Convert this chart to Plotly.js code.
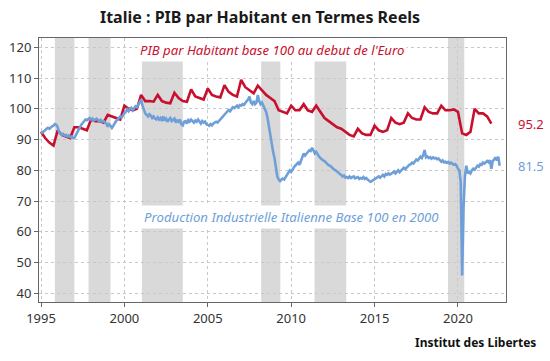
<!DOCTYPE html>
<html>
<head>
<meta charset="utf-8">
<script src="https://cdn.plot.ly/plotly-3.0.1.min.js"></script>
<style>html,body{margin:0;padding:0;background:#fff;}#chart{width:550px;height:361px;}</style>
</head>
<body>
<div id="chart"></div>
<script>
// GDP per capita (base 100 at start of Euro), quarterly, Q1 1995 .. Q1 2022
const gdpStartYear = 1995;
const gdpValues = [
  92.5, 90.5, 89, 88,
  93, 91.5, 91, 90.5,
  94, 94, 93.5, 93,
  96.5, 96, 96, 95.5,
  98, 97.5, 97, 96.5,
  101, 100, 99.5, 100,
  104.5, 102.5, 102.5, 102.3,
  104.5, 102.5, 102, 101.8,
  105.2, 103.5, 102.5, 102.3,
  106.3, 104, 103.5, 103,
  106.6, 104.5, 104, 103.7,
  107.7, 105.5, 104.5, 104,
  109.4, 107, 106, 105,
  107.5, 106, 104.5, 103.5,
  102.5, 99.5, 99, 98.5,
  101, 99.5, 99.5, 101.5,
  99.5, 99, 101, 99,
  97, 96, 95, 94,
  93.5, 92.5, 91.5, 91,
  93.5, 92, 91.5, 91.5,
  94.5, 93, 92.5, 93,
  97, 95.5, 95, 95.5,
  98.5, 97, 96.5, 96.5,
  100.5, 99, 98.5, 98.5,
  101, 99.5, 99.5, 99.8,
  99, 92, 91.5, 92.5,
  100, 98.5, 98.5, 97.5,
  95.2
];

// Industrial production (base 100 in 2000), monthly, Jan 1995 .. Jul 2022
const ipStartYear = 1995;
const ipValues = [
  92, 92.3, 92.8, 93, 93.5, 93.8, 93.5, 94, 94.3, 94.5, 95, 94.8,
  94, 92.5, 91.8, 91.5, 91.8, 91.2, 91.5, 91, 91.3, 90.8, 91, 90.5,
  90.5, 91.5, 92.5, 93.5, 94, 94.8, 95.5, 95.8, 96.5, 96.3, 96.8, 97,
  96.5, 96.8, 96.2, 96.5, 96.8, 96.3, 96, 96.4, 95.8, 96, 95.5, 95.2,
  94.2, 95, 94.5, 93.8, 94.5, 95.5, 96, 96.5, 97, 97.5, 97.2, 98,
  98.5, 99, 99.8, 99.2, 100, 100.3, 99.5, 100.2, 100.8, 100.5, 101.5, 102.5,
  103, 101, 99.5, 98.5, 98, 97.5, 98.2, 97.8, 97, 97.5, 96.8, 96.5,
  97.2, 96.5, 97, 96, 97.5, 96.2, 96.8, 95.8, 96.5, 97, 96, 96.5,
  96.8, 95.5, 96.2, 95.8, 96.5, 95, 94.6, 95.8, 96, 95.2, 96.3, 95.8,
  96.5, 96, 95.5, 96.2, 95.8, 96.5, 95.6, 95.2, 96, 95.5, 95.8, 95,
  94.8, 94.5, 95, 94.6, 95.2, 95.5, 95.8, 95.5, 96, 96.5, 97.2, 97.8,
  98, 98.5, 99, 99.6, 99.2, 100, 100.5, 100.2, 100.8, 101, 100.5, 101.2,
  101, 101.5, 101.2, 102, 102.5, 103, 104, 102, 101.5, 102.5, 101.5, 102,
  104.5, 102.5, 101.5, 102, 101, 100, 99, 97, 94, 91.5, 88.5, 86,
  84, 81, 78, 77, 76.5, 77, 77.3, 77, 77.8, 78.5, 79, 80,
  79.5, 80.5, 81, 81.5, 82, 82.5, 81.8, 83, 84.5, 85.5, 84.8, 85.5,
  86, 86.5, 86.3, 87.3, 86.5, 85.5, 86, 85, 84.5, 84, 83.5, 83.2,
  83, 82.5, 82, 81.6, 81.5, 81, 80.5, 80.2, 80, 79.5, 79, 78.8,
  78.5, 78, 78.3, 77.6, 77.8, 77.5, 78, 77.5, 77.8, 78, 77.4, 77.6,
  77.8, 77.2, 77.5, 77.3, 77.8, 77.2, 77.5, 77, 76.6, 76.3, 76.5, 76.8,
  77, 77.3, 77.5, 78, 77.6, 78.2, 78.5, 78, 78.8, 78.5, 79, 78.6,
  78.8, 79.2, 79.6, 79, 79.5, 80, 79.4, 79.8, 80.3, 80.8, 80.4, 81,
  81.2, 81.8, 82, 82.5, 82.2, 83, 83.5, 83.2, 84, 84.4, 84, 85,
  86.6, 84.2, 84.5, 84, 84.3, 83.8, 84.2, 83.9, 84, 83.6, 83.8, 83.2,
  82.8, 83.2, 82.6, 82.8, 82.4, 82.7, 82.2, 82.5, 82, 81.8, 82, 81.5,
  80.5, 80, 76, 45.8, 68, 78, 81.5, 79, 79.5, 79, 80, 80.5,
  80.2, 81, 81.5, 81.2, 82, 81.8, 82.5, 82.2, 82.8, 83, 82.6, 83.3,
  80.5, 83, 83.5, 84.2, 83.2, 84.4, 81.5
];

// Recession periods (decimal years)
const recessionStart = [1995.83, 1997.85, 2001.05, 2008.2, 2011.4, 2019.4];
const recessionEnd   = [1997.0, 1999.17, 2003.5, 2009.35, 2013.3, 2020.38];

const xTickVals = [1995, 2000, 2005, 2010, 2015, 2020];
const yTickVals = [40, 50, 60, 70, 80, 90, 100, 110, 120];

const gdpLabel = "PIB par Habitant base 100 au debut de l'Euro";
const ipLabel = "Production Industrielle Italienne Base 100 en 2000";
const titleText = "Italie : PIB par Habitant en Termes Reels";
const sourceText = "Institut des Libertes";

const gdpX = gdpValues.map((v, i) => gdpStartYear + i / 4);
const ipX = ipValues.map((v, i) => ipStartYear + i / 12);

const RED = '#c8102e';
const BLUE = '#6f9fd8';
const FONT = 'Noto Sans, Open Sans, sans-serif';

const yMin = 37.2, yMax = 123;
// text-band gaps (data y)
const topGapLow = 115.9;
const midGapLow = 61.3, midGapHigh = 68.1;
const textXMin = 2000.8, textXMax = 2019.0;

const shapes = [];
recessionStart.forEach((s, i) => {
  const e = recessionEnd[i];
  const base = {type: 'rect', xref: 'x', yref: 'y', x0: s, x1: e,
    fillcolor: '#d9d9d9', line: {width: 0}, layer: 'below'};
  const overlapsText = e > textXMin && s < textXMax;
  if (overlapsText) {
    shapes.push(Object.assign({}, base, {y0: yMin, y1: midGapLow}));
    shapes.push(Object.assign({}, base, {y0: midGapHigh, y1: topGapLow}));
  } else {
    shapes.push(Object.assign({}, base, {y0: yMin, y1: yMax}));
  }
});

const traces = [
  {x: gdpX, y: gdpValues, type: 'scatter', mode: 'lines',
   line: {color: RED, width: 2.6}, hoverinfo: 'skip'},
  {x: ipX, y: ipValues, type: 'scatter', mode: 'lines',
   line: {color: BLUE, width: 2.6}, hoverinfo: 'skip'}
];

const gdpLast = gdpValues[gdpValues.length - 1];
const ipLast = ipValues[ipValues.length - 1];

const layout = {
  width: 550, height: 361,
  margin: {l: 39, r: 44, t: 38, b: 59},
  paper_bgcolor: '#ffffff', plot_bgcolor: '#ffffff',
  showlegend: false,
  font: {family: FONT, color: '#333333', size: 13},
  title: {text: '<b>' + titleText + '</b>', x: 260 / 550, xanchor: 'center',
    y: 1 - 17 / 361, yanchor: 'middle', font: {family: FONT, size: 16, color: '#1a1a1a'}},
  xaxis: {
    range: [1994.88, 2022.88], tickvals: xTickVals, ticktext: xTickVals.map(String),
    showgrid: true, gridcolor: '#c8c8c8', griddash: '3px,3px', gridwidth: 1,
    zeroline: false, showline: true, linecolor: '#666666', linewidth: 1, mirror: true,
    ticks: 'outside', ticklen: 4, tickcolor: '#666666',
    tickfont: {family: FONT, size: 13, color: '#333333'}
  },
  yaxis: {
    range: [yMin, yMax], tickvals: yTickVals, ticktext: yTickVals.map(String),
    showgrid: true, gridcolor: '#c8c8c8', griddash: '3px,3px', gridwidth: 1,
    zeroline: false, showline: true, linecolor: '#666666', linewidth: 1, mirror: true,
    ticks: 'outside', ticklen: 4, tickcolor: '#666666',
    tickfont: {family: FONT, size: 13, color: '#333333'}
  },
  shapes: shapes,
  annotations: [
    {text: '<i>' + gdpLabel + '</i>', xref: 'paper', yref: 'y', x: 0.499, y: 119.1,
     xanchor: 'center', yanchor: 'middle', showarrow: false,
     bgcolor: '#ffffff', borderpad: 2,
     font: {family: FONT, size: 13.2, color: RED}},
    {text: '<i>' + ipLabel + '</i>', xref: 'paper', yref: 'y', x: 0.54, y: 64.9,
     xanchor: 'center', yanchor: 'middle', showarrow: false,
     bgcolor: '#ffffff', borderpad: 2,
     font: {family: FONT, size: 13.2, color: BLUE}},
    {text: gdpLast.toFixed(1), xref: 'paper', yref: 'y', x: 1.022, y: gdpLast,
     xanchor: 'left', yanchor: 'middle', showarrow: false,
     font: {family: FONT, size: 13, color: RED}},
    {text: ipLast.toFixed(1), xref: 'paper', yref: 'y', x: 1.022, y: ipLast,
     xanchor: 'left', yanchor: 'middle', showarrow: false,
     font: {family: FONT, size: 13, color: BLUE}},
    {text: '<b>' + sourceText + '</b>', xref: 'paper', yref: 'paper',
     x: (538 - 39) / 467, y: (302 - 342) / 264, xanchor: 'right', yanchor: 'middle',
     showarrow: false,
     font: {family: FONT, size: 12, color: '#111111'}}
  ]
};

Plotly.newPlot('chart', traces, layout, {staticPlot: true, displayModeBar: false});
</script>
</body>
</html>
